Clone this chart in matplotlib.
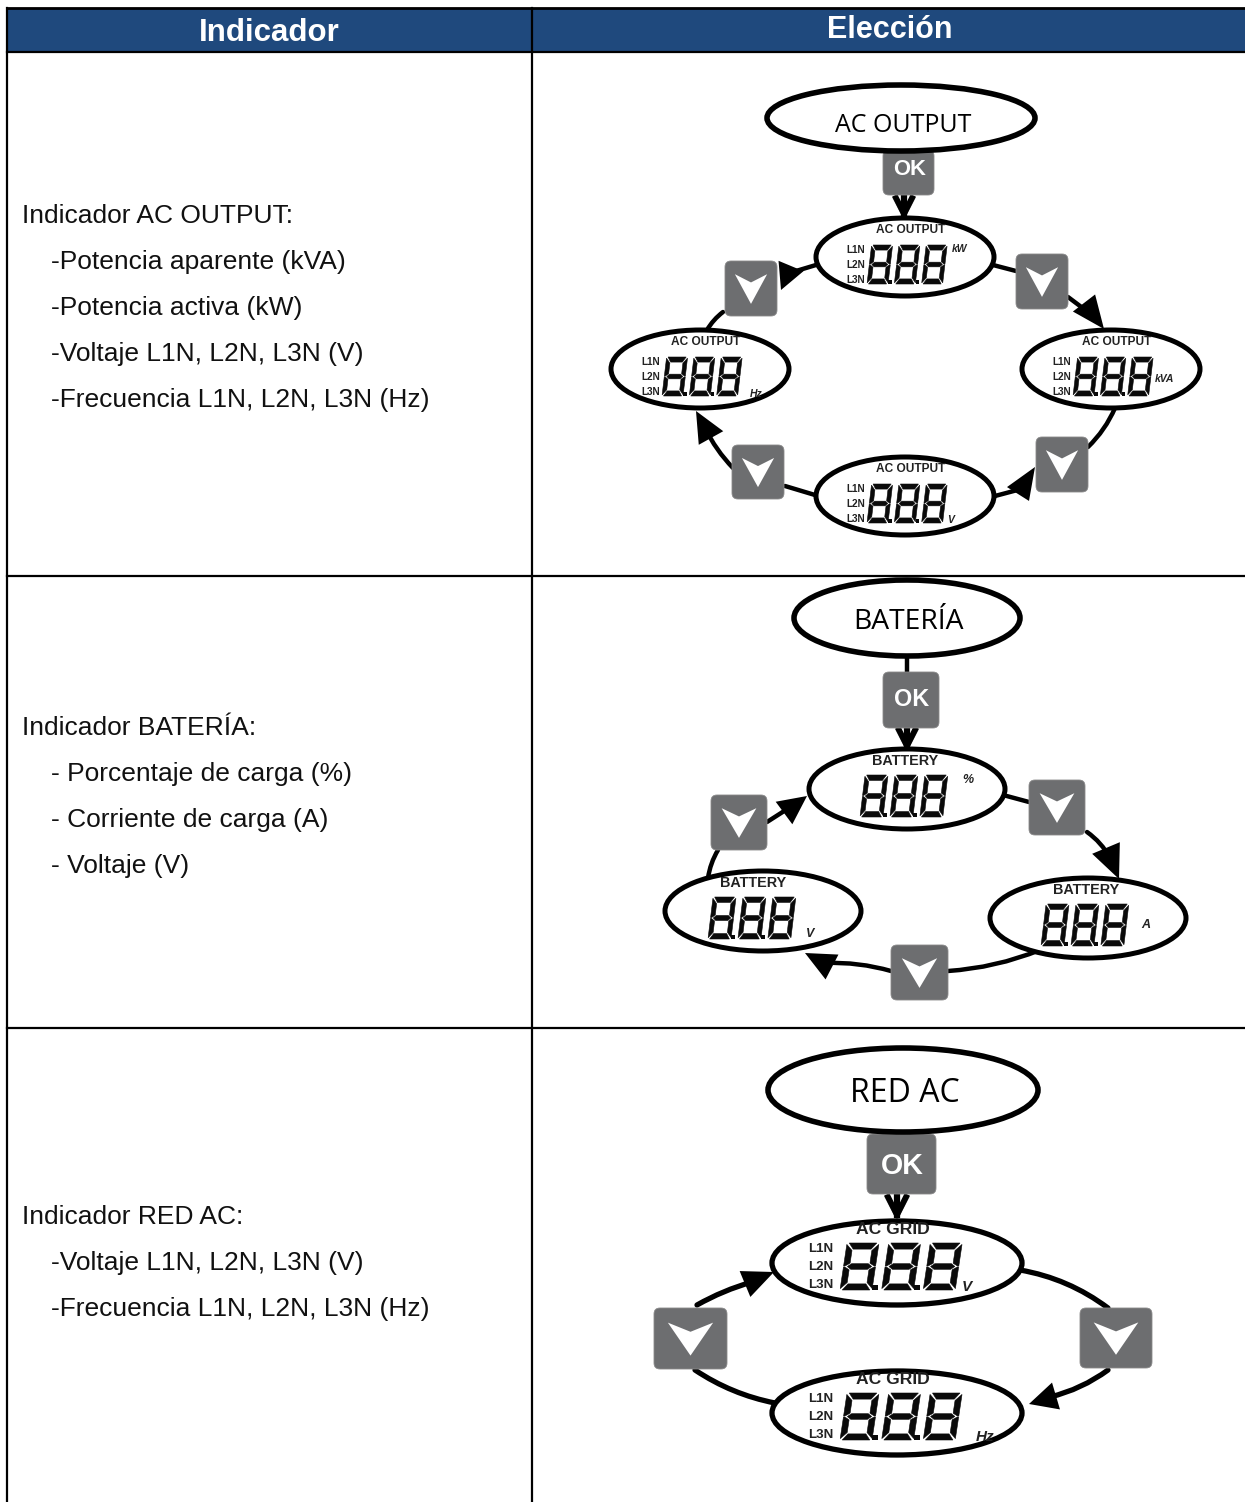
import matplotlib
matplotlib.use("Agg")
import matplotlib.pyplot as plt
from matplotlib.patches import Ellipse, FancyBboxPatch, FancyArrowPatch, Rectangle

# table text
headers = ["Indicador", "Elección"]
row1_text = ["Indicador AC OUTPUT:", "-Potencia aparente (kVA)", "-Potencia activa (kW)",
             "-Voltaje L1N, L2N, L3N (V)", "-Frecuencia L1N, L2N, L3N (Hz)"]
row2_text = ["Indicador BATERÍA:", "- Porcentaje de carga (%)", "- Corriente de carga (A)", "- Voltaje (V)"]
row3_text = ["Indicador RED AC:", "-Voltaje L1N, L2N, L3N (V)", "-Frecuencia L1N, L2N, L3N (Hz)"]
phases = ["L1N", "L2N", "L3N"]
NAVY = "#1F497D"
GREY = "#6D6E70"
SANS = ["Liberation Sans", "DejaVu Sans"]
NARROW = ["Liberation Sans Narrow", "Liberation Sans", "DejaVu Sans"]

fig = plt.figure(figsize=(12.45, 15.02), dpi=100)
ax = fig.add_axes([0, 0, 1, 1])
ax.set_xlim(0, 1245)
ax.set_ylim(1502, 0)
ax.axis("off")

# segments of one LCD digit: u across, v up
SEGS = {
    "a": [(.07, 1), (.93, 1), (.78, .87), (.22, .87)],
    "d": [(.07, 0), (.93, 0), (.78, .13), (.22, .13)],
    "g": [(.12, .5), (.24, .56), (.76, .56), (.88, .5), (.76, .44), (.24, .44)],
    "f": [(0, .97), (.19, .84), (.19, .57), (.04, .51), (0, .51)],
    "e": [(0, .03), (.19, .16), (.19, .43), (.04, .49), (0, .49)],
    "b": [(1, .97), (.81, .84), (.81, .57), (.96, .51), (1, .51)],
    "c": [(1, .03), (.81, .16), (.81, .43), (.96, .49), (1, .49)],
}


def lcd(x, y, w, h, n=3):
    # x,y is the bottom left of first digit, w digit width, h digit height
    gap = w * 0.3
    skew = 0.22
    for i in range(n):
        x0 = x + i * (w + gap)
        for pts in SEGS.values():
            ax.fill([x0 + w * (u + skew * v) for u, v in pts],
                    [y - h * v for u, v in pts], color="#0a0a0a", lw=0.4, zorder=6)
        if i < n - 1:
            d = w * 0.17
            ax.add_patch(Rectangle((x0 + w + gap * 0.05, y - d), d, d, color="#0a0a0a", lw=0, zorder=6))


def display(cx, cy, a, b, title, unit, ux, uy, tdx, tdy, tsize=8.6, tfam=NARROW, usize=7.5, lw=3.6):
    ax.add_patch(Ellipse((cx, cy), 2 * a, 2 * b, fc="white", ec="black", lw=lw, zorder=4))
    ax.text(cx + tdx, cy + tdy, title, ha="center", va="center", fontsize=tsize,
            fontweight="bold", family=tfam, color="#222222", zorder=7)
    ax.text(cx + ux, cy + uy, unit, ha="center", va="center", fontsize=usize,
            style="italic", fontweight="bold", family=SANS, color="#222222", zorder=7)


def phase_labels(x, y0, dy, size=7.2):
    for i, p in enumerate(phases):
        ax.text(x, y0 + i * dy, p, ha="left", va="center", fontsize=size, family=NARROW,
                fontweight="bold", color="#222222", zorder=7)


def button(x0, y0, x1, y1, label=None, size=15, dy=0):
    r = 6
    ax.add_patch(FancyBboxPatch((x0 + r, y0 + r), x1 - x0 - 2 * r, y1 - y0 - 2 * r,
                                boxstyle="round,pad=%d,rounding_size=%d" % (r, r),
                                fc=GREY, ec="#8a8a8a", lw=0.6, zorder=5))
    if label:
        ax.text((x0 + x1) / 2 + 1, (y0 + y1) / 2 + dy, label, color="white", fontweight="bold",
                fontsize=size, ha="center", va="center", family=SANS, zorder=6)
    else:
        w, h = x1 - x0, y1 - y0
        ax.fill([x0 + .19 * w, x0 + .5 * w, x0 + .81 * w, x0 + .5 * w],
                [y0 + .24 * h, y0 + .39 * h, y0 + .24 * h, y0 + .78 * h], color="white", lw=0, zorder=6)


def line(p, q, rad=0.0, lw=3.2):
    ax.add_patch(FancyArrowPatch(p, q, connectionstyle="arc3,rad=%g" % rad, arrowstyle="-",
                                 lw=lw, color="black", zorder=2, shrinkA=0, shrinkB=0))


def head(base, tip, width=24):
    # triangle arrow head from centre of base to tip
    dx, dy = tip[0] - base[0], tip[1] - base[1]
    n = (dx ** 2 + dy ** 2) ** 0.5
    ox, oy = -dy / n * width / 2, dx / n * width / 2
    ax.fill([tip[0], base[0] + ox, base[0] - ox], [tip[1], base[1] + oy, base[1] - oy],
            color="black", lw=0, zorder=3)


def ok_arrow(x, y0, y1, w=11):
    ax.plot([x - w + 1, x, x + w - 1], [y0, y1, y0], color="#999999", lw=2, zorder=2)
    ax.plot([x - w + 3, x, x + w - 3], [y0, y1 - 3, y0], color="black", lw=4.2, zorder=3)
    ax.plot([x, x], [y0, y1 - 3], color="black", lw=4.5, zorder=3)


# table
ax.add_patch(Rectangle((7, 8), 1238, 44, fc=NAVY, ec="none", zorder=1))
ax.plot([7, 1245], [8, 8], color="black", lw=2, zorder=8)
for yy in [52, 576, 1028]:
    ax.plot([7, 1245], [yy, yy], color="black", lw=1.6, zorder=8)
ax.plot([7, 7], [8, 1502], color="black", lw=1.6, zorder=8)
ax.plot([532, 532], [8, 1502], color="black", lw=1.6, zorder=8)
ax.text(269, 33, headers[0], color="white", fontweight="bold", fontsize=22.5, ha="center",
        va="center", family=SANS, zorder=9)
ax.text(890, 30, headers[1], color="white", fontweight="bold", fontsize=22, ha="center",
        va="center", family=SANS, zorder=9)


def left_column(lines, y0, indent):
    for i, t in enumerate(lines):
        ax.text(22 if i == 0 else indent, y0 + i * 46, t, fontsize=19, family=SANS, ha="left",
                va="center", color="#111111")


left_column(row1_text, 216, 51)
left_column(row2_text, 728, 51)
left_column(row3_text, 1217, 51)

# panel 1 - AC OUTPUT
ax.add_patch(Ellipse((901, 118), 268, 66, fc="white", ec="black", lw=4, zorder=6))
ax.text(903, 125, "AC OUTPUT", fontsize=18, family="Open Sans", ha="center", va="center", zorder=7)
button(883, 150, 934, 195, "OK", 15.8, dy=-3)
ok_arrow(904, 198, 217, 11)
for cx, cy, u, ux, uy in [(905, 257, "kW", 55, -8), (700, 369, "Hz", 56, 25), (1111, 369, "kVA", 54, 10),
                          (905, 496, "V", 46, 24)]:
    display(cx, cy, 89, 39, "AC OUTPUT", u, ux, uy, 6, -27)
    lcd(cx - 38, cy + 27, 21, 39)
    phase_labels(cx - 59, cy - 7, 15)
button(725, 261, 777, 316)
button(1016, 254, 1068, 309)
button(732, 445, 784, 499)
button(1036, 437, 1088, 492)
line((816, 265), (796, 271))
head((791, 266), (781, 290), 27)
line((723, 312), (707, 330), 0.1)
line((993, 265), (1016, 271))
line((1068, 297), (1088, 312))
head((1084, 303), (1104, 329), 28)
line((1115, 408), (1088, 447), -0.1)
line((995, 496), (1025, 488))
head((1018, 494), (1035, 467), 26)
line((815, 495), (785, 486))
line((733, 468), (705, 428), -0.08)
head((711, 438), (696, 411), 28)

# panel 2 - BATERIA
ax.add_patch(Ellipse((907, 618), 226, 76, fc="white", ec="black", lw=4, zorder=6))
ax.text(908, 622, "BATERÍA", fontsize=20.3, family="Open Sans", ha="center", va="center", zorder=7)
ax.plot([907, 907], [655, 672], color="black", lw=3.2, zorder=2)
button(883, 672, 939, 728, "OK", 16.8)
ok_arrow(907, 730, 749, 11)
for cx, cy, u, ux, uy, dx in [(907, 789, "%", 61, -9, -47), (763, 911, "V", 47, 23, -55), (1088, 918, "A", 58, 7, -47)]:
    display(cx, cy, 98, 40, "BATTERY", u, ux, uy, -2 if cx != 763 else -10, -28 if cx != 1088 else -28,
            tsize=10.4, tfam=SANS, usize=9)
    lcd(cx + dx, cy + 28, 23, 42)
button(711, 795, 767, 850)
button(1029, 780, 1085, 835)
button(891, 945, 948, 1000)
line((767, 822), (792, 806))
head((784, 813), (807, 796), 28)
line((718, 850), (708, 878), 0.1)
line((1003, 795), (1029, 802))
line((1087, 832), (1110, 858), -0.12)
head((1106, 848), (1119, 879), 30)
line((948, 971), (1040, 950), 0.08)
line((891, 971), (825, 963), 0.08)
head((832, 967), (805, 953), 28)

# panel 3 - RED AC
ax.add_patch(Ellipse((903, 1090), 270, 84, fc="white", ec="black", lw=4, zorder=6))
ax.text(905, 1094, "RED AC", fontsize=23, family="Open Sans", ha="center", va="center", zorder=7)
button(867, 1134, 936, 1194, "OK", 20.6, dy=2)
ok_arrow(897, 1197, 1218, 12)
for cx, cy, u, ux, uy in [(897, 1263, "V", 70, 24), (897, 1413, "Hz", 88, 24)]:
    display(cx, cy, 125, 42, "AC GRID", u, ux, uy, -4, -34, tsize=12.6, tfam=SANS, usize=11, lw=3.8)
    lcd(cx - 57, cy + 27, 32, 47)
    phase_labels(cx - 89, cy - 14, 18, size=9.5)
button(654, 1308, 727, 1369)
button(1080, 1308, 1152, 1368)
line((697, 1305), (752, 1282), -0.06, 3.8)
head((745, 1284), (774, 1272), 28)
line((695, 1370), (775, 1403), 0.1, 3.8)
line((1020, 1270), (1108, 1308), -0.12, 3.8)
line((1108, 1370), (1050, 1397), -0.1, 3.8)
head((1056, 1396), (1029, 1404), 28)

fig.savefig("out.png", dpi=100)
